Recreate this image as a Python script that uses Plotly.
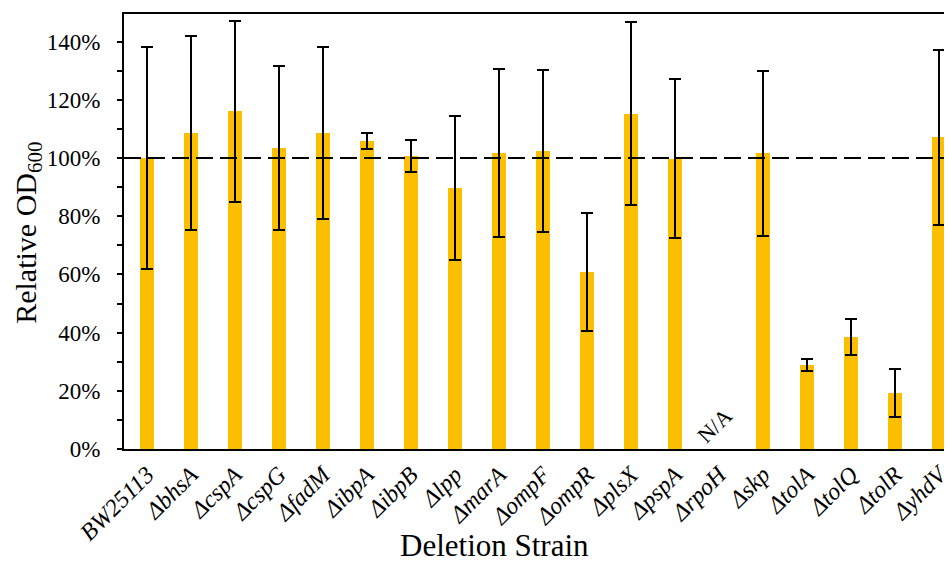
import plotly.graph_objects as go

strains = ["BW25113", "ΔbhsA", "ΔcspA", "ΔcspG", "ΔfadM", "ΔibpA", "ΔibpB", "Δlpp",
           "ΔmarA", "ΔompF", "ΔompR", "ΔplsX", "ΔpspA", "ΔrpoH", "Δskp", "ΔtolA",
           "ΔtolQ", "ΔtolR", "ΔyhdV"]
relative_od = [100, 108.5, 116, 103.5, 108.7, 105.8, 100.7, 89.8,
               101.8, 102.3, 60.7, 115.2, 99.8, None, 101.6, 28.8,
               38.6, 19.2, 107.1]
error = [38, 33.4, 31.2, 28.2, 29.6, 2.7, 5.4, 24.7,
         28.8, 27.8, 20.3, 31.4, 27.2, None, 28.3, 2.0,
         6.2, 8.2, 30.0]
y_ticks = [0, 20, 40, 60, 80, 100, 120, 140]
reference_level = 100

FONT = "Liberation Serif"
BAR = "#FBBF00"

fig = go.Figure()
fig.add_trace(go.Bar(
    x=strains, y=relative_od,
    marker=dict(color=BAR, line=dict(width=0)),
    width=0.32,
    error_y=dict(type="data", array=error, visible=True,
                 color="black", thickness=2, width=6),
))

fig.add_shape(type="line", xref="paper", x0=0, x1=1, yref="y",
              y0=reference_level, y1=reference_level,
              line=dict(color="black", width=2, dash="17px,7px"), layer="above")

fig.add_annotation(x="ΔrpoH", y=0, xref="x", yref="y", text="N/A",
                   showarrow=False, textangle=-45, yanchor="bottom",
                   xshift=-4, yshift=-2,
                   font=dict(family=FONT, size=22, color="black"))

fig.add_annotation(xref="paper", yref="paper", x=0.448, y=-0.221,
                   text="Deletion Strain", showarrow=False,
                   xanchor="center", yanchor="middle",
                   font=dict(family=FONT, size=31, color="black"))
fig.add_annotation(xref="paper", yref="paper", x=0, xshift=-96, y=0.497,
                   text="Relative OD<sub>600</sub>", showarrow=False, textangle=-90,
                   xanchor="center", yanchor="middle",
                   font=dict(family=FONT, size=30, color="black"))

fig.update_layout(
    width=944, height=555,
    margin=dict(l=116, r=0, t=6, b=114),
    plot_bgcolor="white", paper_bgcolor="white",
    showlegend=False,
    bargap=0,
    font=dict(family=FONT, color="black"),
    xaxis=dict(
        type="category",
        range=[-0.523, 18.295],
        automargin=False,
        showline=True, linecolor="black", linewidth=2, mirror=True,
        ticks="", showgrid=False, zeroline=False,
        tickangle=-45,
        tickfont=dict(family=FONT, size=24, color="black", style="italic"),
    ),
    yaxis=dict(
        range=[0, 149.5],
        automargin=False,
        tickvals=y_ticks, ticktext=[f"{v}%" for v in y_ticks],
        showline=True, linecolor="black", linewidth=2,
        ticks="outside", ticklen=5, tickwidth=2, tickcolor="black",
        minor=dict(dtick=10, ticks="outside", ticklen=5, tickwidth=2, tickcolor="black"),
        showgrid=False, zeroline=False,
        tickfont=dict(family=FONT, size=23, color="black"),
        ticklabelstandoff=12,
    ),
)

fig.write_html("out.html")
